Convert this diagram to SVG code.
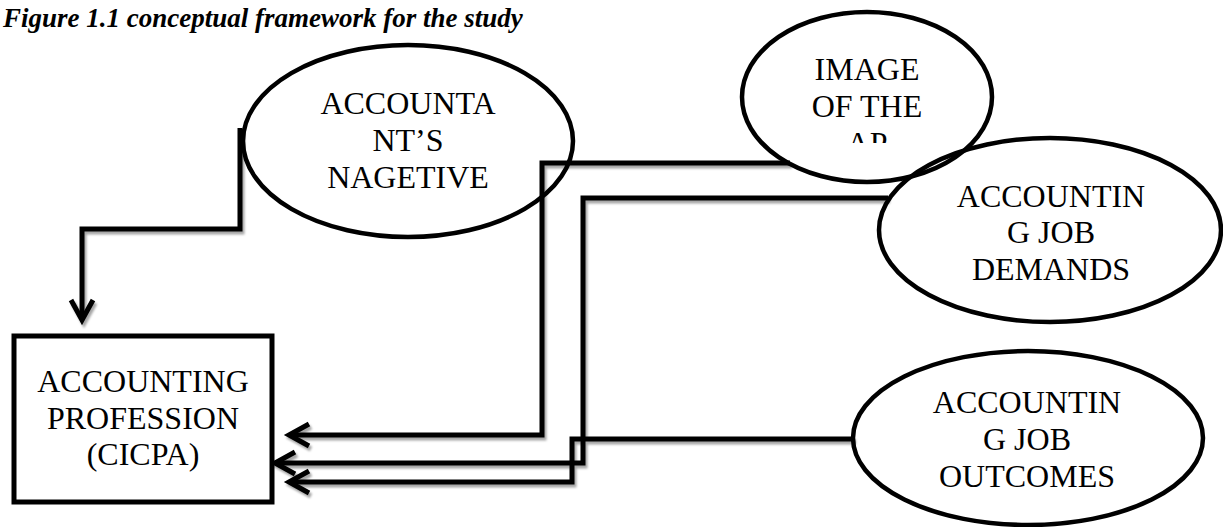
<svg xmlns="http://www.w3.org/2000/svg" width="1223" height="527" viewBox="0 0 1223 527">
<style>
.bg{fill:#fff}
.title{font-family:"Liberation Serif","Times New Roman",serif;font-weight:bold;font-style:italic;font-size:27px;fill:#000}
.lbl{font-family:"Liberation Serif","Times New Roman",serif;font-size:32px;fill:#000;text-anchor:middle}
.shape{fill:none;stroke:#000;stroke-width:4.5}
.box{fill:#fff;stroke:#000;stroke-width:5}
.conn{fill:none;stroke:#000;stroke-width:5;stroke-linejoin:miter}
</style>
<defs>
<marker id="arr" markerUnits="userSpaceOnUse" markerWidth="30" markerHeight="30" viewBox="-24 -15 30 30" refX="0" refY="0" orient="auto" overflow="visible">
<path d="M -20 -11 L 0 0 L -20 11" fill="none" stroke="#000" stroke-width="5" stroke-linejoin="miter"/>
</marker>
<filter id="sh" x="-5%" y="-5%" width="110%" height="120%">
<feDropShadow dx="2" dy="3" stdDeviation="1" flood-color="#000" flood-opacity="0.35"/>
</filter>
<clipPath id="clipImg"><rect x="740" y="0" width="260" height="143"/></clipPath>
</defs>
<rect class="bg" x="0" y="0" width="1223" height="527"/>
<text class="title" x="3" y="27">Figure 1.1 conceptual framework for the study</text>

<g id="connectors" filter="url(#sh)">
<path class="conn" d="M 240 128 V 229 H 82 V 320" marker-end="url(#arr)"/>
<path class="conn" d="M 790 163 H 542 V 435 H 289" marker-end="url(#arr)"/>
<path class="conn" d="M 888 198 H 583 V 463 H 275" marker-end="url(#arr)"/>
<path class="conn" d="M 854 439 H 572 V 482 H 289" marker-end="url(#arr)"/>
</g>

<g id="node-accountants-negative">
<ellipse class="shape" cx="408" cy="141" rx="165" ry="96"/>
<text class="lbl" x="408" y="114">ACCOUNTA</text>
<text class="lbl" x="408" y="151">NT’S</text>
<text class="lbl" x="408" y="188">NAGETIVE</text>
</g>

<g id="node-image">
<ellipse class="shape" cx="867" cy="97" rx="125" ry="85"/>
<g clip-path="url(#clipImg)">
<text class="lbl" x="867" y="80">IMAGE</text>
<text class="lbl" x="867" y="117">OF THE</text>
<text class="lbl" x="867" y="154">AP</text>
</g>
</g>

<g id="node-job-demands">
<ellipse class="shape" cx="1050" cy="230" rx="171" ry="92"/>
<text class="lbl" x="1051" y="207">ACCOUNTIN</text>
<text class="lbl" x="1051" y="243">G JOB</text>
<text class="lbl" x="1051" y="280">DEMANDS</text>
</g>

<g id="node-job-outcomes">
<ellipse class="shape" cx="1028" cy="438" rx="175" ry="87"/>
<text class="lbl" x="1027" y="413">ACCOUNTIN</text>
<text class="lbl" x="1027" y="450">G JOB</text>
<text class="lbl" x="1027" y="487">OUTCOMES</text>
</g>

<g id="node-accounting-profession">
<rect class="box" x="14" y="336" width="258" height="166"/>
<text class="lbl" x="143" y="392">ACCOUNTING</text>
<text class="lbl" x="143" y="429">PROFESSION</text>
<text class="lbl" x="143" y="465">(CICPA)</text>
</g>
</svg>
